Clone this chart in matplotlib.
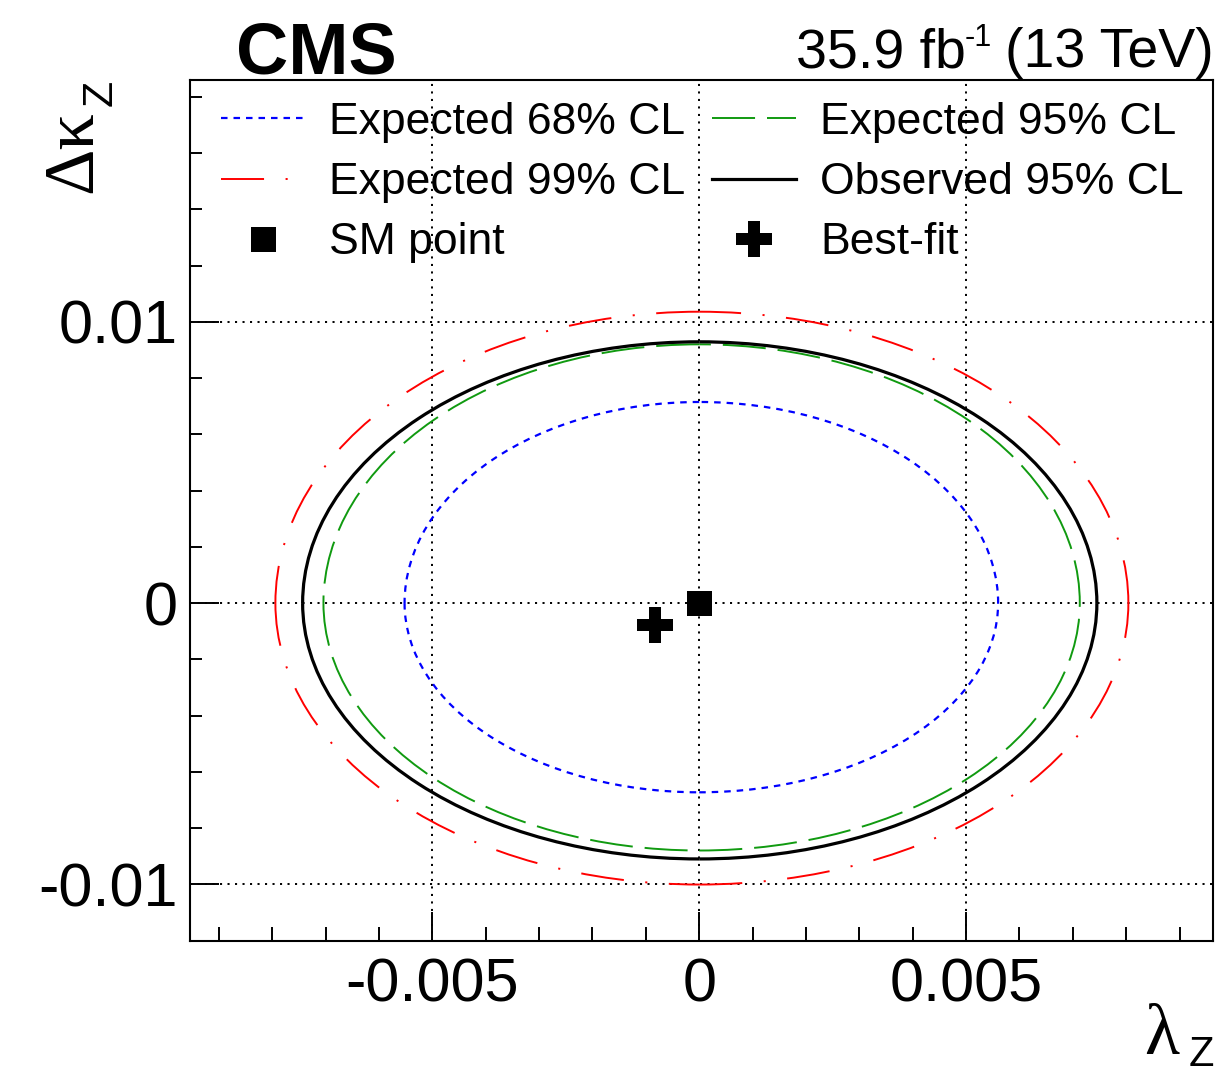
import matplotlib
matplotlib.use("Agg")
import matplotlib.pyplot as plt
from matplotlib.patches import Arc
from matplotlib.lines import Line2D
from matplotlib.ticker import FixedLocator, FixedFormatter, MultipleLocator

plt.rcParams['font.family'] = ['Liberation Sans', 'DejaVu Sans']
plt.rcParams['axes.unicode_minus'] = False
plt.rcParams['lines.scale_dashes'] = False

# ---- data -----------------------------------------------------------------
contour_labels = ["Expected 68% CL", "Expected 95% CL",
                  "Expected 99% CL", "Observed 95% CL"]
# extents of each confidence contour
lam_left = [-0.00552, -0.00704, -0.00794, -0.00743]
lam_right = [0.00560, 0.00713, 0.00804, 0.00745]
dk_bottom = [-0.00673, -0.00880, -0.01001, -0.00910]
dk_top = [0.00715, 0.00920, 0.01036, 0.00929]
# lambda_Z where each contour peaks, Delta kappa_Z where it is widest
lam_peak = [0.0, 0.0, 0.0, 0.0]
dk_widest = [0.0, 0.0, 0.0, 0.0]

sm_lam = [0.0]
sm_dk = [0.0]
fit_lam = [-0.00083]
fit_dk = [-0.00078]

x_ticks = [-0.005, 0.0, 0.005]
x_ticklabels = ["-0.005", "0", "0.005"]
y_ticks = [-0.01, 0.0, 0.01]
y_ticklabels = ["-0.01", "0", "0.01"]

# ---- styles ---------------------------------------------------------------
line_styles = [
    dict(color="#0000ff", lw=1.6, ls=(0, (4.7, 4.3))),
    dict(color="#109a10", lw=1.4, ls=(0, (31.0, 8.6))),
    dict(color="#ff0000", lw=1.4, ls=(0, (31.0, 15.5, 1.5, 15.5))),
    dict(color="#000000", lw=2.3, ls="-"),
]

W, H = 1220, 1075
fig = plt.figure(figsize=(W / 100, H / 100), dpi=100)
ax = fig.add_axes([190 / W, 1 - 940.5 / H, (1212.7 - 190) / W, (940.5 - 80) / H])
ax.set_xlim(-0.00954, 0.00962)
ax.set_ylim(-0.0120, 0.0186)


def fx(x):
    return x / W


def fy(y):
    return 1 - y / H


# confidence contours, each built from four quarter-ellipse arcs
for i, st in enumerate(line_styles):
    cx, cy = lam_peak[i], dk_widest[i]
    quarters = [
        (lam_right[i] - cx, dk_top[i] - cy, 0, 90),
        (cx - lam_left[i], dk_top[i] - cy, 90, 180),
        (cx - lam_left[i], cy - dk_bottom[i], 180, 270),
        (lam_right[i] - cx, cy - dk_bottom[i], 270, 360),
    ]
    for rx, ry, t1, t2 in quarters:
        ax.add_patch(Arc((cx, cy), 2 * rx, 2 * ry, theta1=t1, theta2=t2,
                         edgecolor=st["color"], lw=st["lw"], linestyle=st["ls"],
                         zorder=3))

ax.plot(sm_lam, sm_dk, ls="none", marker="s", ms=18, color="k", mew=0, zorder=5)
ax.plot(fit_lam, fit_dk, ls="none", marker="P", ms=26.4, color="k", mew=0, zorder=5)

# axes, ticks, grid
ax.xaxis.set_major_locator(FixedLocator(x_ticks))
ax.xaxis.set_major_formatter(FixedFormatter(x_ticklabels))
ax.yaxis.set_major_locator(FixedLocator(y_ticks))
ax.yaxis.set_major_formatter(FixedFormatter(y_ticklabels))
ax.xaxis.set_minor_locator(MultipleLocator(0.001))
ax.yaxis.set_minor_locator(MultipleLocator(0.002))
ax.tick_params(which="both", direction="in", top=False, right=False, width=1.4,
               labelsize=44)
ax.tick_params(axis="x", which="major", length=21, pad=12.5)
ax.tick_params(axis="x", which="minor", length=10.3)
ax.tick_params(axis="y", which="major", length=21, pad=9)
ax.tick_params(axis="y", which="minor", length=8.5)
for sp in ax.spines.values():
    sp.set_linewidth(1.5)
ax.grid(True, which="major", color="k", lw=1.4, ls=(0, (1.5, 3.9)), zorder=1)
ax.set_axisbelow(True)

# legend
h68 = Line2D([], [], **{k: line_styles[0][k] for k in ("color", "lw", "ls")})
h95 = Line2D([], [], **{k: line_styles[1][k] for k in ("color", "lw", "ls")})
h99 = Line2D([], [], **{k: line_styles[2][k] for k in ("color", "lw", "ls")})
hobs = Line2D([], [], **{k: line_styles[3][k] for k in ("color", "lw", "ls")})
hsm = Line2D([], [], ls="none", marker="s", ms=18, color="k", mew=0)
hfit = Line2D([], [], ls="none", marker="P", ms=26.4, color="k", mew=0)
handles = [h68, h99, hsm, h95, hobs, hfit]
labels = [contour_labels[0], contour_labels[2], "SM point",
          contour_labels[1], contour_labels[3], "Best-fit"]
ax.legend(handles, labels, ncol=2, loc="upper left",
          bbox_to_anchor=((221 - 190) / (1212.7 - 190), (940.5 - 102) / (940.5 - 80)),
          frameon=False, borderpad=0, borderaxespad=0, handlelength=1.9,
          handletextpad=0.54, columnspacing=0.59, labelspacing=0.43,
          fontsize=32, numpoints=1)

# header
fig.text(fx(236), fy(73), "CMS", fontsize=52, fontweight="bold",
         ha="left", va="baseline")
fig.text(fx(796), fy(67), "35.9 fb", fontsize=40, ha="left", va="baseline")
fig.text(fx(965), fy(46), "-1", fontsize=22, ha="left", va="baseline")
fig.text(fx(1214), fy(67), "(13 TeV)", fontsize=40, ha="right", va="baseline")

# axis titles
fig.text(fx(1144), fy(1054), "λ", fontsize=52, family="Liberation Serif",
         ha="left", va="baseline")
fig.text(fx(1214), fy(1066), "Z", fontsize=30, ha="right", va="baseline")
fig.text(fx(91), fy(193), "Δκ", fontsize=52, family="Liberation Serif",
         rotation=90, rotation_mode="anchor", ha="left", va="baseline")
fig.text(fx(112), fy(80), "Z", fontsize=31, rotation=90, rotation_mode="anchor",
         ha="right", va="baseline")

fig.savefig("out.png", dpi=100)
